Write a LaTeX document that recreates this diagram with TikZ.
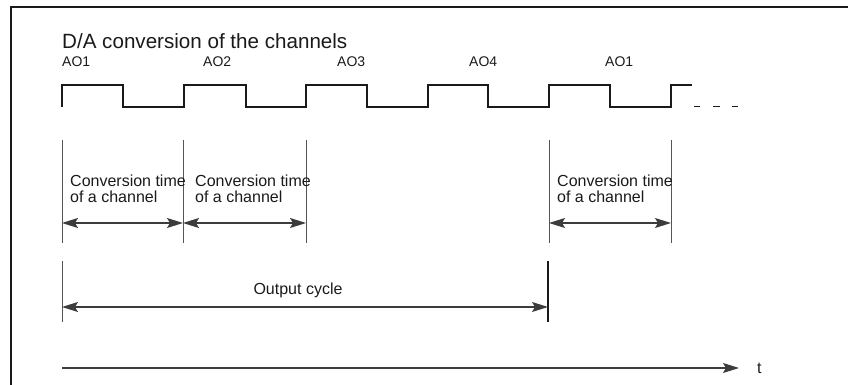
\documentclass[tikz,border=0pt]{standalone}
\usepackage{fontspec}
\setmainfont{Liberation Sans}
\usetikzlibrary{arrows.meta}
\definecolor{ink}{HTML}{1A1A1A}
\definecolor{lgray}{HTML}{555555}
\tikzset{
  frameline/.style={draw=ink, line width=1.3pt},
  wave/.style={draw=ink, line width=1.8pt, line join=miter},
  tickline/.style={draw=lgray, line width=0.9pt},
  tip/.tip={Stealth[length=16pt,width=10pt,inset=3pt]},
  dimarrow/.style={draw=ink!85, line width=1.2pt, tip-tip},
  axisarrow/.style={draw=ink!85, line width=1.2pt, -tip},
  lbl/.style={inner sep=0pt, text=ink, font=\fontsize{16}{16}\selectfont},
  aolbl/.style={inner sep=0pt, text=ink, font=\fontsize{14}{14}\selectfont, anchor=base west},
  titlelbl/.style={inner sep=0pt, text=ink, font=\fontsize{20.6}{20.6}\selectfont, anchor=base west}
}
\begin{document}
\begin{tikzpicture}[x=1pt,y=-1pt]
\useasboundingbox (0,0) rectangle (848,385);
% frame
\draw[frameline] (11,385) -- (11,7) -- (848,7);
% title
\node[titlelbl] (title) at (62,49) {D/A conversion of the channels};
% channel labels
\node[aolbl] (ao1) at (62,67) {AO1};
\node[aolbl] (ao2) at (203,67) {AO2};
\node[aolbl] (ao3) at (337,67) {AO3};
\node[aolbl] (ao4) at (469,67) {AO4};
\node[aolbl] (ao1b) at (605,67) {AO1};
% square wave
\draw[wave] (62,107) -- (62,85) -- (123,85) -- (123,107) -- (184,107) -- (184,85)
  -- (246,85) -- (246,107) -- (306,107) -- (306,85) -- (367,85) -- (367,107)
  -- (428,107) -- (428,85) -- (488,85) -- (488,107) -- (549,107) -- (549,85)
  -- (610,85) -- (610,107) -- (671,107) -- (671,85) -- (692,85);
\draw[draw=ink, line width=1pt] (694,107) -- (700,107) (713,107) -- (720,107) (732,107) -- (738,107);
% conversion time markers
\foreach \n/\x in {a/62,b/183,c/306,d/549,e/671}{
  \coordinate (top-\n) at (\x,140);
  \coordinate (bot-\n) at (\x,243);
  \coordinate (mid-\n) at (\x,223);
  \draw[tickline] (top-\n) -- (bot-\n);
}
\draw[dimarrow] (mid-a) -- (mid-b);
\draw[dimarrow] (mid-b) -- (mid-c);
\draw[dimarrow] (mid-d) -- (mid-e);
\node[lbl, anchor=north west, align=left] (ct1) at (70,175) {Conversion time\\of a channel};
\node[lbl, anchor=north west, align=left] (ct2) at (195,175) {Conversion time\\of a channel};
\node[lbl, anchor=north west, align=left] (ct3) at (557,175) {Conversion time\\of a channel};
% output cycle
\coordinate (oa-top) at (62,261);
\coordinate (oa-bot) at (62,322);
\coordinate (ob-top) at (548,261);
\coordinate (ob-bot) at (548,322);
\coordinate (oa-mid) at (62,307);
\coordinate (ob-mid) at (548,307);
\draw[tickline] (oa-top) -- (oa-bot);
\draw[draw=ink, line width=1.2pt] (ob-top) -- (ob-bot);
\draw[dimarrow] (oa-mid) -- (ob-mid);
\node[lbl, anchor=base] (oc) at (298,294) {Output cycle};
% time axis
\coordinate (t0) at (62,368);
\coordinate (t1) at (739,368);
\draw[axisarrow] (t0) -- (t1);
\node[lbl, anchor=base west] (tlbl) at (757,373) {t};
\end{tikzpicture}
\end{document}
